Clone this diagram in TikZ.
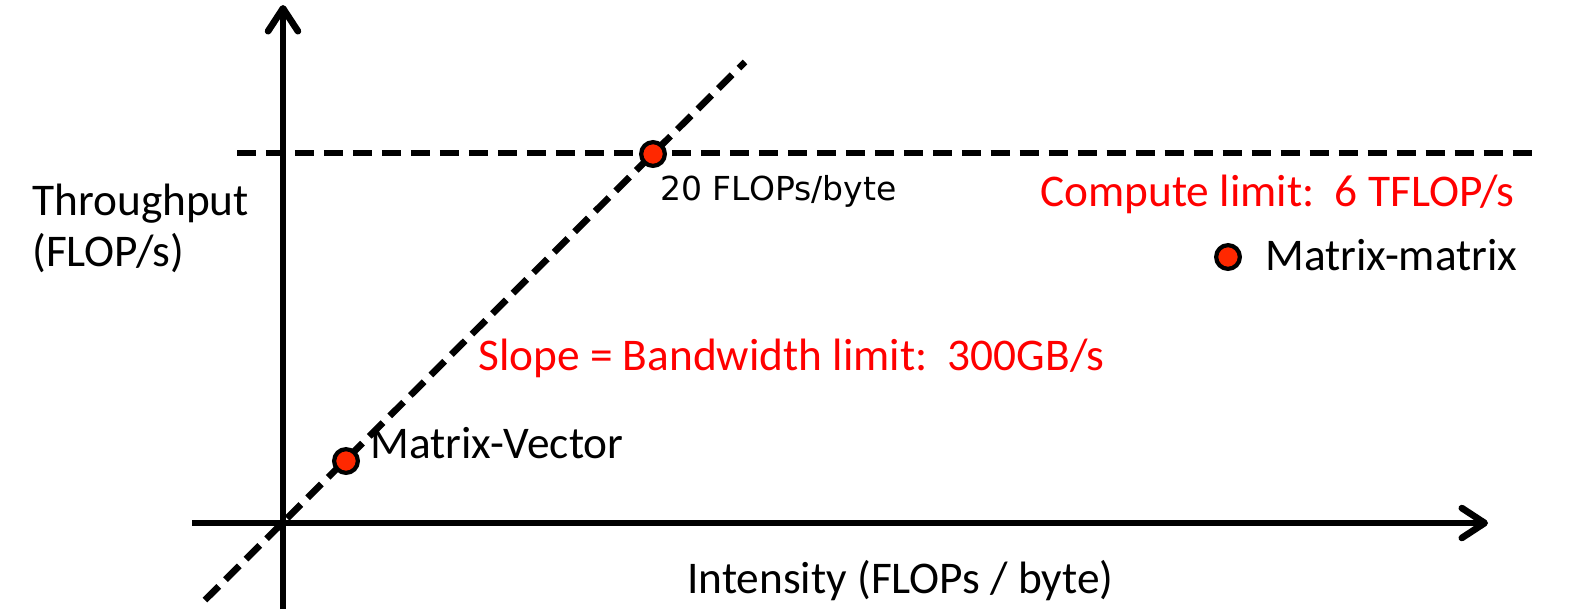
\documentclass[tikz,border=0pt]{standalone}
\usepackage{fontspec}
\setmainfont{Carlito}
\newfontfamily\dejavu{DejaVu Sans}
\usetikzlibrary{arrows.meta,positioning}
\definecolor{dotred}{RGB}{255,40,0}
\definecolor{limitred}{RGB}{255,0,0}

\begin{document}
\begin{tikzpicture}[x=0.02cm, y=-0.02cm,
  axis/.style={line width=3.8pt, line cap=butt,
    -{Straight Barb[length=13pt, width=17pt, line cap=round, line join=round]}},
  limit/.style={line width=3.8pt, dash pattern=on 11pt off 5.5pt},
  dot/.style={circle, draw=black, line width=2.4pt, fill=dotred,
    minimum size=13.5pt, inner sep=0pt},
  lbl/.style={font=\fontsize{25.8}{31}\selectfont, inner sep=0pt},
  redlbl/.style={lbl, text=limitred}]
  \useasboundingbox (0,0) rectangle (1572,609);

  % axes
  \coordinate (origin) at (283,523);
  \coordinate (ybot) at (283,609);
  \coordinate (ytop) at (283,5);
  \coordinate (xleft) at (192,523);
  \coordinate (xright) at (1488,523);
  \draw[axis] (ybot) -- (ytop);
  \draw[axis] (xleft) -- (xright);

  % limits
  \coordinate (bwlow) at (205,600);
  \coordinate (bwhigh) at (745,62);
  \coordinate (cpleft) at (237,153);
  \coordinate (cpright) at (1532,153);
  \draw[limit] (bwlow) -- (bwhigh);
  \draw[limit] (cpleft) -- (cpright);

  % points
  \node[dot] (ridge) at (653,154) {};
  \node[dot] (mv) at (346,461) {};
  \node[dot] (mmkey) at (1228,257) {};

  % labels
  \node[lbl, anchor=base west] (tput) at (32,215) {Throughput};
  \node[lbl, anchor=base west] (tunit) at (32,266) {(FLOP/s)};
  \node[lbl, anchor=base west] (intens) at (687,593) {Intensity (FLOPs / byte)};
  \node[anchor=base west, inner sep=0pt, font=\dejavu\fontsize{18.8}{22}\selectfont]
    (ridgelbl) at (660,200) {20 FLOPs/byte};
  \node[redlbl, anchor=base west] (cplbl) at (1040,206) {Compute limit:\ \ 6 TFLOP/s};
  \node[redlbl, anchor=base west] (bwlbl) at (478,370) {Slope = Bandwidth limit:\ \ 300GB/s};
  \node[lbl, anchor=base west] (mvlbl) at (370,458) {Matrix-Vector};
  \node[lbl, anchor=base west] (mmlbl) at (1265,270) {Matrix-matrix};
\end{tikzpicture}
\end{document}
